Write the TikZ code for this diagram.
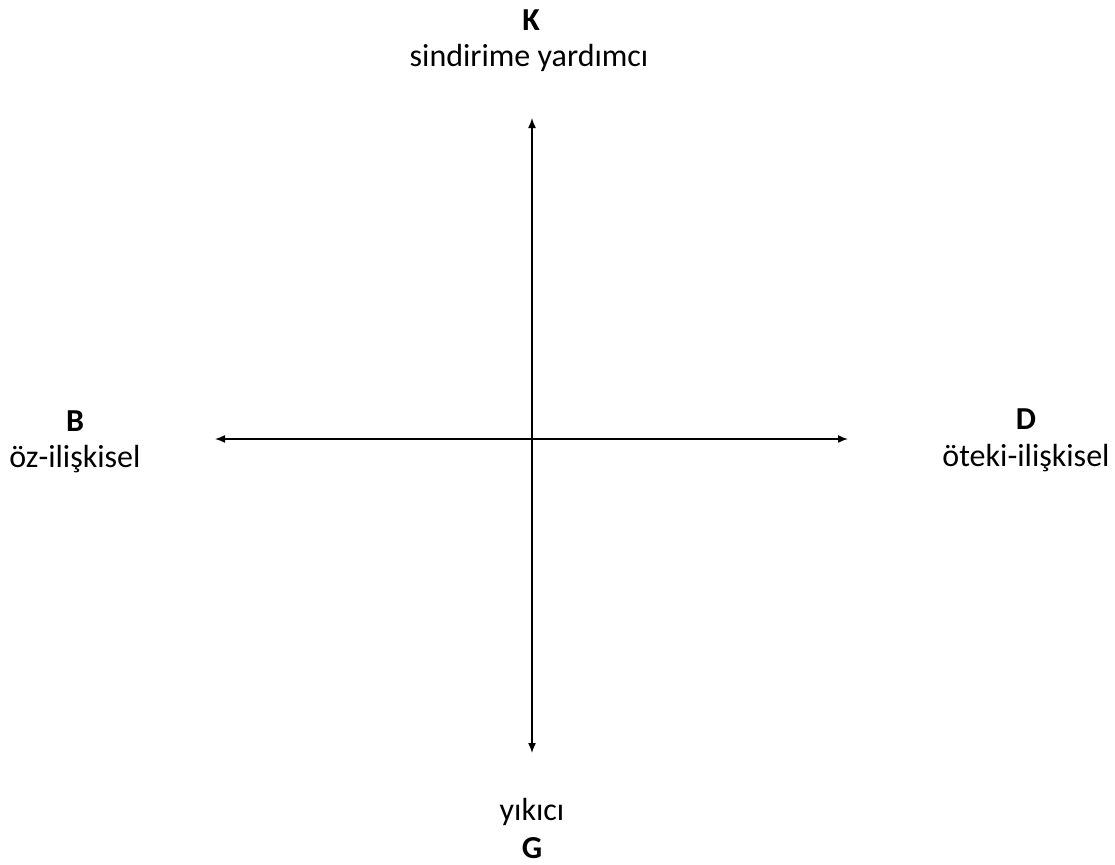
\documentclass[tikz,border=0pt]{standalone}
\usepackage{fontspec}
\setmainfont{Carlito}
\usetikzlibrary{arrows.meta}
\begin{document}
\begin{tikzpicture}[x=1pt,y=-1pt,
  lbl/.style={font=\fontsize{32}{38}\selectfont, inner sep=0pt, anchor=base},
  ttl/.style={font=\fontsize{32}{38}\selectfont\bfseries, inner sep=0pt, anchor=base},
  axis/.style={line width=1.5pt, {Latex[length=10pt,width=8pt]}-{Latex[length=10pt,width=8pt]}}]
\useasboundingbox (0,0) rectangle (1115,864);
\coordinate (top) at (532,118);
\coordinate (bottom) at (532,753);
\coordinate (left) at (215,439);
\coordinate (right) at (848,439);
\draw[axis] (top) -- (bottom);
\draw[axis] (left) -- (right);
\node[ttl] (K) at (531,31) {K};
\node[lbl] (Kt) at (529,67) {sindirime yardımcı};
\node[ttl] (B) at (75,431) {B};
\node[lbl] (Bt) at (75,467) {öz-ilişkisel};
\node[ttl] (D) at (1026,429) {D};
\node[lbl] (Dt) at (1026,466) {öteki-ilişkisel};
\node[lbl] (Gt) at (532,820) {yıkıcı};
\node[ttl] (G) at (532,858) {G};
\end{tikzpicture}
\end{document}
